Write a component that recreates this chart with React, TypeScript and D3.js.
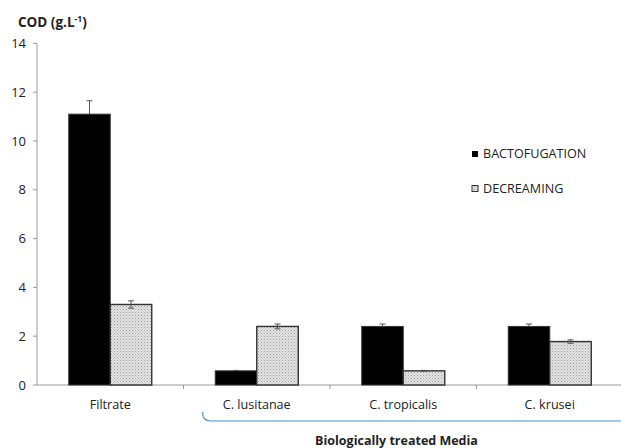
import React from "react";
import * as d3 from "d3";

const categories = ["Filtrate", "C. lusitanae", "C. tropicalis", "C. krusei"];
const seriesNames = ["BACTOFUGATION", "DECREAMING"];
const bactofugation = [11.1, 0.58, 2.4, 2.4];
const bactofugationErr = [0.55, 0.02, 0.1, 0.1];
const decreaming = [3.3, 2.4, 0.58, 1.78];
const decreamingErr = [0.15, 0.1, 0.02, 0.07];
const yTicks = [0, 2, 4, 6, 8, 10, 12, 14];

const W = 621;
const H = 448;
const left = 37;
const right = 623;
const top = 43.4;
const bottom = 385;

export default function App() {
  const x = d3.scaleBand<string>().domain(categories).range([left, right]).paddingInner(0).paddingOuter(0);
  const y = d3.scaleLinear().domain([0, 14]).range([bottom, top]);
  const inner = d3.scaleBand<string>().domain(seriesNames).range([0, x.bandwidth()]).paddingOuter(0.765).paddingInner(0);
  const series = [
    { name: seriesNames[0], values: bactofugation, errs: bactofugationErr },
    { name: seriesNames[1], values: decreaming, errs: decreamingErr },
  ];
  const font = "'Open Sans', 'Liberation Sans', sans-serif";
  const bracketStart = x(categories[1])! + 19;
  return (
    <svg width={W} height={H} style={{ position: "absolute", left: 0, top: 0, background: "#fff" }} fontFamily={font}>
      <defs>
        <pattern id="dots" width="3" height="3" patternUnits="userSpaceOnUse">
          <rect width="3" height="3" fill="#e2e2e2" />
          <rect x="0" y="0" width="1" height="1" fill="#a0a0a0" />
          <rect x="1.5" y="1.5" width="1" height="1" fill="#bcbcbc" />
        </pattern>
      </defs>
      {/* y axis */}
      <line x1={left} x2={left} y1={top} y2={bottom} stroke="#9a9a9a" strokeWidth={1} />
      {yTicks.map((t) => (
        <g key={t}>
          <line x1={left - 4} x2={left} y1={y(t)} y2={y(t)} stroke="#9a9a9a" />
          <text x={left - 11} y={y(t)} dy="0.35em" textAnchor="end" fontSize={13} fill="#222">
            {t}
          </text>
        </g>
      ))}
      {/* x axis */}
      <line x1={left} x2={W} y1={bottom} y2={bottom} stroke="#9a9a9a" />
      {categories.map((c) => (
        <line key={"t" + c} x1={x(c)! + x.bandwidth()} x2={x(c)! + x.bandwidth()} y1={bottom} y2={bottom + 4} stroke="#9a9a9a" />
      ))}
      {categories.map((c) => (
        <text key={"l" + c} x={x(c)! + x.bandwidth() / 2} y={bottom + 20} dy="0.35em" textAnchor="middle" fontSize={12.6} fill="#222">
          {c}
        </text>
      ))}
      {/* bars */}
      {series.map((s, si) =>
        categories.map((c, i) => {
          const bx = x(c)! + inner(s.name)!;
          const bw = inner.bandwidth();
          const v = s.values[i];
          const e = s.errs[i];
          const cx = bx + bw / 2;
          return (
            <g key={s.name + c}>
              {si === 0 ? (
                <rect x={bx} y={y(v)} width={bw} height={bottom - y(v)} fill="#000" stroke="#333" strokeWidth={1} />
              ) : (
                <rect x={bx} y={y(v)} width={bw} height={bottom - y(v)} fill="url(#dots)" stroke="#333" strokeWidth={1.4} />
              )}
              <line x1={cx} x2={cx} y1={y(v)} y2={y(v + e)} stroke="#555" />
              <line x1={cx - 3} x2={cx + 3} y1={y(v + e)} y2={y(v + e)} stroke="#555" />
              {si === 1 && <line x1={cx} x2={cx} y1={y(v)} y2={y(v - e)} stroke="#555" />}
              {si === 1 && <line x1={cx - 3} x2={cx + 3} y1={y(v - e)} y2={y(v - e)} stroke="#555" />}
            </g>
          );
        })
      )}
      {/* legend */}
      <rect x={472} y={151} width={6} height={6} fill="#000" />
      <text x={483} y={154} dy="0.35em" fontSize={12.6} fill="#222">{seriesNames[0]}</text>
      <rect x={472} y={185.5} width={6} height={6} fill="url(#dots)" stroke="#333" strokeWidth={1} />
      <text x={483} y={189} dy="0.35em" fontSize={12.6} fill="#222">{seriesNames[1]}</text>
      {/* title */}
      <text x={18} y={22} dy="0.35em" fontSize={13.5} fontWeight="bold" fill="#222">
        COD (g.L<tspan dy={-5} fontSize={8.5}>-1</tspan><tspan dy={5}>)</tspan>
      </text>
      {/* bracket */}
      <path d={`M${bracketStart},412 Q${bracketStart},421 ${bracketStart + 8},421 L${W},421`} fill="none" stroke="#4a8fd0" strokeWidth={1.2} />
      <text x={396.5} y={441} dy="0.35em" textAnchor="middle" fontSize={12.5} fontWeight="bold" fill="#222">
        Biologically treated Media
      </text>
    </svg>
  );
}
